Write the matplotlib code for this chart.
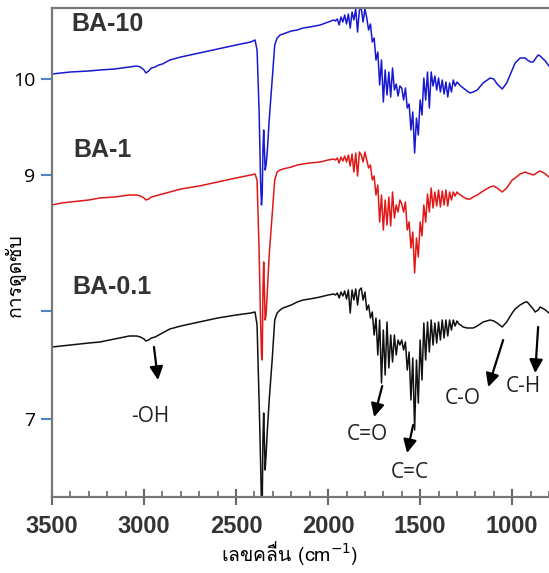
import matplotlib
matplotlib.use("Agg")
import matplotlib.pyplot as plt
from matplotlib import font_manager
from matplotlib.ft2font import FT2Font
from matplotlib.ticker import MultipleLocator

# wavenumber grid (cm-1), shared by the three spectra
wn_start = [3500, 3450, 3400, 3300, 3240, 3160, 3080, 3040, 3020, 3000, 2990, 2975, 2960,
            2940, 2920, 2900, 2880, 2860, 2840, 2800, 2700, 2600, 2500, 2420, 2397]
wn_co2 = [2386, 2375, 2367, 2362, 2358, 2354, 2350, 2346, 2342, 2337, 2330, 2320, 2304,
          2290, 2277, 2261, 2245, 2200, 2168, 2136, 2100, 2043, 2000, 1970]
wn_fingerprint = list(range(1960, 1280, -10))
wn_end = [1280, 1266, 1245, 1228, 1212, 1190, 1158, 1120, 1100, 1082, 1054, 1030, 1000,
          984, 957, 929, 918, 900, 886, 875, 859, 848, 837, 820, 800]
wavenumber = wn_start + wn_co2 + wn_fingerprint + wn_end

# stacked absorbance (offset, arbitrary units)
ba10 = [4.26, 4.27, 4.28, 4.29, 4.30, 4.31, 4.33, 4.34, 4.33, 4.30, 4.27, 4.29, 4.32,
        4.33, 4.35, 4.36, 4.38, 4.40, 4.41, 4.43, 4.47, 4.51, 4.55, 4.58, 4.60,
        4.50, 3.90, 3.20, 2.95, 3.05, 3.50, 3.70, 3.50, 3.30, 3.35, 3.50, 3.80, 4.20,
        4.55, 4.62, 4.65, 4.66, 4.69, 4.70, 4.72, 4.73, 4.75, 4.78, 4.80,
        4.79, 4.81, 4.75, 4.83, 4.78, 4.85, 4.76, 4.86, 4.72, 4.88,
        4.80, 4.91, 4.68, 4.90, 4.92, 4.78, 4.91, 4.82, 4.70, 4.76,
        4.58, 4.62, 4.40, 4.48, 4.15, 4.40, 3.98, 4.30, 4.05, 4.28,
        4.03, 4.32, 4.10, 4.16, 4.04, 4.14, 4.12, 4.00, 4.12, 3.92,
        3.96, 3.70, 3.88, 3.47, 3.82, 3.65, 4.00, 3.85, 4.22, 4.00,
        4.28, 3.92, 4.28, 4.14, 4.24, 4.10, 4.22, 4.08, 4.20, 4.06,
        4.18, 4.03, 4.17, 4.08, 4.20, 4.14, 4.18, 4.16,
        4.14, 4.12, 4.09, 4.07, 4.08, 4.10, 4.17, 4.22, 4.21, 4.16, 4.11, 4.17, 4.30,
        4.37, 4.42, 4.42, 4.40, 4.38, 4.38, 4.41, 4.45, 4.44, 4.42, 4.39, 4.34]

ba1 = [2.95, 2.97, 2.98, 3.00, 3.02, 3.03, 3.05, 3.05, 3.04, 3.02, 3.00, 3.01, 3.03,
       3.04, 3.05, 3.06, 3.07, 3.08, 3.09, 3.11, 3.14, 3.18, 3.22, 3.25, 3.26,
       3.20, 2.50, 1.80, 1.45, 1.40, 2.10, 2.38, 2.10, 1.80, 1.85, 2.10, 2.45, 2.85,
       3.20, 3.28, 3.30, 3.31, 3.33, 3.35, 3.36, 3.37, 3.38, 3.40, 3.41,
       3.40, 3.42, 3.37, 3.43, 3.39, 3.44, 3.38, 3.45, 3.34, 3.46,
       3.28, 3.47, 3.24, 3.48, 3.45, 3.38, 3.48, 3.40, 3.32, 3.35,
       3.20, 3.24, 3.05, 3.15, 2.78, 3.05, 2.70, 3.00, 2.75, 3.03,
       2.74, 3.08, 2.82, 2.95, 2.88, 3.00, 2.96, 2.88, 2.98, 2.70,
       2.78, 2.52, 2.68, 2.27, 2.62, 2.43, 2.78, 2.64, 2.95, 2.78,
       3.06, 2.88, 3.12, 2.92, 3.08, 2.94, 3.10, 2.93, 3.09, 2.95,
       3.10, 2.94, 3.08, 3.00, 3.08, 3.04, 3.08, 3.06,
       3.05, 3.03, 3.01, 3.01, 3.03, 3.05, 3.09, 3.13, 3.14, 3.12, 3.08, 3.12, 3.20,
       3.22, 3.26, 3.28, 3.27, 3.26, 3.25, 3.26, 3.28, 3.29, 3.28, 3.26, 3.23]

ba01 = [1.53, 1.54, 1.55, 1.57, 1.58, 1.61, 1.64, 1.64, 1.63, 1.61, 1.59, 1.60, 1.62,
        1.63, 1.65, 1.67, 1.69, 1.71, 1.72, 1.74, 1.78, 1.82, 1.85, 1.87, 1.88,
        1.75, 1.00, 0.40, -0.05, -0.05, 0.60, 0.87, 0.60, 0.30, 0.45, 0.70, 1.00, 1.40,
        1.80, 1.87, 1.90, 1.92, 1.95, 1.98, 2.00, 2.01, 2.03, 2.05, 2.06,
        2.05, 2.07, 2.02, 2.08, 2.04, 2.09, 2.01, 2.10, 1.87, 2.10,
        2.00, 2.11, 1.95, 2.10, 2.12, 2.00, 2.08, 1.90, 1.95, 1.82,
        1.88, 1.65, 1.82, 1.45, 1.80, 1.17, 1.70, 1.25, 1.78, 1.32,
        1.65, 1.38, 1.65, 1.45, 1.60, 1.55, 1.60, 1.50, 1.58, 1.30,
        1.48, 1.00, 1.42, 0.70, 1.40, 0.97, 1.60, 1.20, 1.77, 1.40,
        1.78, 1.48, 1.80, 1.55, 1.77, 1.57, 1.78, 1.60, 1.80, 1.62,
        1.80, 1.64, 1.80, 1.70, 1.80, 1.74, 1.79, 1.76,
        1.75, 1.73, 1.72, 1.72, 1.72, 1.74, 1.78, 1.80, 1.79, 1.77, 1.73, 1.78, 1.87,
        1.91, 1.95, 1.98, 1.98, 1.94, 1.91, 1.88, 1.90, 1.93, 1.92, 1.90, 1.87]

series_names = ["BA-0.1", "BA-1", "BA-10"]
series_colors = ["#111111", "#e01818", "#1818d0"]
series_label_pos = [(3174, 2.13), (3228, 3.50), (3201, 4.76)]

ytick_pos = [0.81, 1.89, 3.25, 4.21]
ytick_labels = ["7", "", "9", "10"]
xtick_pos = [3500, 3000, 2500, 2000, 1500, 1000]

# (label, text position, arrow tail, arrow tip)
bands = [
    ("-OH", (2967, 0.84), (2946, 1.53), (2924, 1.20)),
    ("C=O", (1788, 0.65), (1706, 1.14), (1750, 0.83)),
    ("C=C", (1554, 0.27), (1538, 0.75), (1571, 0.47)),
    ("C-O", (1266, 1.01), (1049, 1.60), (1130, 1.13)),
    ("C-H", (940, 1.13), (859, 1.73), (875, 1.27)),
]


def find_thai_font():
    # first installed font that has Thai glyphs
    for f in font_manager.fontManager.ttflist:
        try:
            if 0x0E01 in FT2Font(f.fname).get_charmap():
                return f.name
        except Exception:
            continue
    return None


thai = find_thai_font()
thai_family = [thai, "DejaVu Sans"] if thai else ["DejaVu Sans"]

fig = plt.figure(figsize=(5.49, 5.73), dpi=100)
ax = fig.add_axes([52 / 549, 76 / 573, 497 / 549, 489 / 573])

for ys, col in zip([ba01, ba1, ba10], series_colors):
    ax.plot(wavenumber, ys, color=col, lw=1.1)

for name, (x, y) in zip(series_names, series_label_pos):
    ax.text(x, y, name, fontsize=18, fontweight="bold", color="#333333",
            family="Liberation Sans", ha="center", va="center")

for label, txt, tail, tip in bands:
    ax.annotate("", xy=tip, xytext=tail,
                arrowprops=dict(arrowstyle="-|>", color="black", lw=1.6,
                                mutation_scale=20, shrinkA=0, shrinkB=0))
    ax.text(txt[0], txt[1], label, fontsize=15, family="Open Sans",
            color="#222222", ha="center", va="center")

ax.set_xlim(3500, 800)
ax.set_ylim(0.03, 4.92)

ax.set_xticks(xtick_pos)
ax.xaxis.set_minor_locator(MultipleLocator(100))
ax.tick_params(axis="x", which="major", direction="inout", length=12, width=1.5,
               color="#666666", pad=7, labelsize=17, labelcolor="#333333")
ax.tick_params(axis="x", which="minor", direction="in", length=4, width=1.2,
               color="#666666")
for lab in ax.get_xticklabels():
    lab.set_fontweight("bold")
    lab.set_family("Liberation Sans")

ax.set_yticks(ytick_pos)
ax.set_yticklabels(ytick_labels)
ax.tick_params(axis="y", direction="out", length=8, width=1.5, color="#4a86c8",
               pad=4, labelsize=14)
for lab in ax.get_yticklabels():
    lab.set_family("Open Sans")

for side in ["left", "bottom", "top"]:
    ax.spines[side].set_color("#777777")
    ax.spines[side].set_linewidth(1.6)
ax.spines["right"].set_visible(False)

fig.text(290 / 549, 1 - 553 / 573, "เลขคลื่น (cm$^{-1}$)", fontsize=14,
         family=thai_family, ha="center", va="center")
fig.text(15 / 549, 1 - 275 / 573, "การดูดซับ", fontsize=14, family=thai_family,
         rotation=90, ha="center", va="center")

fig.savefig("out.png", dpi=100)
